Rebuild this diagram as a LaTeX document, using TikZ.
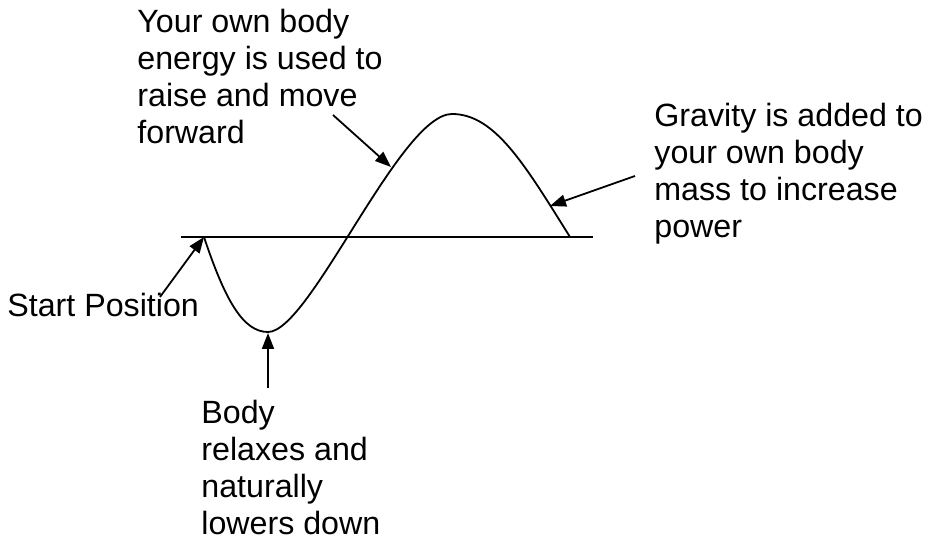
\documentclass[tikz,border=0pt]{standalone}
\usepackage{fontspec}
\setmainfont{Liberation Sans}
\usetikzlibrary{arrows.meta}

\begin{document}
\begin{tikzpicture}[x=0.5pt,y=-0.5pt,
  lbl/.style={anchor=base west,align=left,inner sep=0pt,font=\fontsize{16.1}{18.5}\selectfont},
  pointer/.style={line width=0.9pt,-{Triangle[length=8pt,width=6pt]}}]
\useasboundingbox (0,0) rectangle (934,539);

% base line and the swing curve
\draw[line width=0.9pt] (181,237) -- (593,237);
\draw[line width=0.9pt] (204,237) .. controls (225,300) and (243,332) .. (268,332)
  .. controls (310,332) and (400,114) .. (452,114)
  .. controls (495,114) and (525,165) .. (570,237);

% points on the curve
\coordinate (startpt) at (204,237);
\coordinate (trough) at (268,333);
\coordinate (risept) at (391,167);
\coordinate (fallpt) at (550,206);

% labels (base = last line)
\node[lbl] (startlbl) at (7,317) {Start Position};
\node[lbl] (riselbl) at (137,144) {Your own body\\energy is used to\\raise and move\\forward};
\node[lbl] (gravitylbl) at (654,238) {Gravity is added to\\your own body\\mass to increase\\power};
\node[lbl] (relaxlbl) at (201,535) {Body\\relaxes and\\naturally\\lowers down};

% arrow tails
\coordinate (starttail) at (160,297);
\coordinate (risetail) at (333,115);
\coordinate (falltail) at (635,176);
\coordinate (relaxtail) at (268,388);

\draw[pointer] (starttail) -- (startpt);
\draw[pointer] (risetail) -- (risept);
\draw[pointer] (falltail) -- (fallpt);
\draw[pointer] (relaxtail) -- (trough);

\end{tikzpicture}
\end{document}
